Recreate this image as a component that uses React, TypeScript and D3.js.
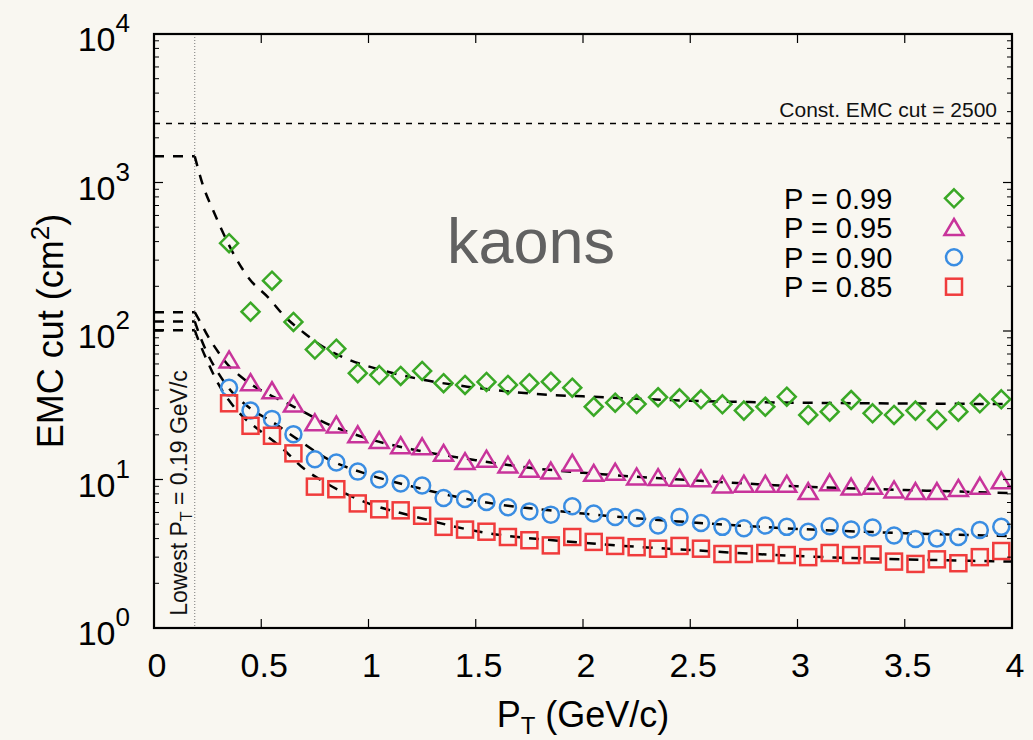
import React from 'react';
import * as d3 from 'd3';

// ---------- data ----------
const pT = [0.35, 0.45, 0.55, 0.65, 0.75, 0.85, 0.95, 1.05, 1.15, 1.25, 1.35, 1.45, 1.55, 1.65, 1.75, 1.85, 1.95,
  2.05, 2.15, 2.25, 2.35, 2.45, 2.55, 2.65, 2.75, 2.85, 2.95, 3.05, 3.15, 3.25, 3.35, 3.45, 3.55, 3.65, 3.75, 3.85, 3.95];

const p99 = [390, 135, 218, 115, 75, 76, 52, 50.5, 49.8, 53.8, 44.5, 43.3, 45.4, 43.3, 44.5, 45.6, 41.5,
  30.9, 32.9, 32.2, 35.8, 35.2, 34.7, 32.1, 29.1, 30.9, 36.1, 27.2, 28.6, 34.3, 27.9, 27.2, 29.1, 25.2, 28.6, 32.6, 34.7];
const p95 = [63.8, 44.9, 39.6, 32.2, 24.1, 23.3, 20.0, 18.3, 16.9, 16.6, 15.0, 13.2, 13.7, 12.5, 11.7, 11.4, 12.9,
  11.0, 11.2, 10.4, 10.3, 10.2, 10.1, 9.2, 9.3, 9.3, 9.3, 8.3, 9.5, 8.9, 9.0, 8.5, 8.3, 8.3, 8.7, 9.0, 9.8];
const p90 = [41.5, 29.1, 25.6, 20.2, 13.7, 13.0, 11.3, 10.0, 9.4, 9.1, 7.5, 7.4, 7.05, 6.5, 6.1, 5.8, 6.6,
  5.9, 5.6, 5.5, 4.9, 5.6, 5.1, 4.8, 4.7, 4.9, 4.8, 4.45, 4.85, 4.6, 4.75, 4.2, 3.97, 4.0, 4.1, 4.57, 4.8];
const p85 = [32.6, 23.0, 19.7, 15.0, 8.95, 8.6, 6.9, 6.3, 6.2, 5.7, 4.8, 4.6, 4.45, 4.1, 3.9, 3.6, 4.1,
  3.8, 3.57, 3.5, 3.42, 3.57, 3.42, 3.15, 3.15, 3.2, 3.1, 3.0, 3.2, 3.1, 3.13, 2.8, 2.7, 2.9, 2.73, 3.0, 3.3];

// fit curves: [pT, value]
const fit99: [number, number][] = [[0, 1500], [0.19, 1500], [0.23, 940], [0.277, 643], [0.323, 455], [0.385, 304],
  [0.443, 226], [0.533, 168], [0.61, 125], [0.7, 97], [0.79, 78], [0.91, 64], [1.06, 54.6], [1.26, 46.8],
  [1.46, 42.2], [1.85, 37.1], [2.0, 36.3], [2.5, 33.9], [3.0, 32.9], [3.5, 32.5], [4.0, 32.2]];
const fit95: [number, number][] = [[0, 134], [0.19, 134], [0.22, 112], [0.25, 93], [0.3, 72], [0.35, 58], [0.4, 50],
  [0.45, 44], [0.55, 36.5], [0.65, 31], [0.8, 24], [1.0, 18.8], [1.2, 16], [1.5, 13.5], [1.75, 12], [2.0, 11.1],
  [2.5, 9.9], [3.0, 9.0], [3.5, 8.5], [4.0, 8.1]];
const fit90: [number, number][] = [[0, 116], [0.19, 116], [0.22, 88], [0.25, 70], [0.3, 52], [0.35, 41], [0.45, 30],
  [0.55, 24.5], [0.65, 19.5], [0.8, 14], [1.0, 10.8], [1.2, 9.0], [1.5, 7.2], [2.0, 5.9], [2.5, 5.15], [3.0, 4.65],
  [3.5, 4.35], [4.0, 4.15]];
const fit85: [number, number][] = [[0, 101], [0.19, 101], [0.22, 78], [0.25, 62], [0.3, 44], [0.35, 34], [0.42, 26],
  [0.5, 21], [0.59, 16.6], [0.7, 11.8], [0.8, 9.5], [1.0, 6.9], [1.2, 5.7], [1.5, 4.5], [2.0, 3.75], [2.5, 3.35],
  [3.0, 3.05], [3.5, 2.9], [4.0, 2.8]];

const xTicks = [0, 0.5, 1, 1.5, 2, 2.5, 3, 3.5, 4];
const xTickLabels = ['0', '0.5', '1', '1.5', '2', '2.5', '3', '3.5', '4'];
const yDecades = [1, 10, 100, 1000, 10000];
const yExponents = ['0', '1', '2', '3', '4'];
const constCut = 2500;
const lowestPt = 0.19;
const legendLabels = ['P = 0.99', 'P = 0.95', 'P = 0.90', 'P = 0.85'];

// ---------- styling ----------
const W = 1033, H = 740;
const L = 154, R = 1012, T = 34, B = 628;
const BG = '#f9f7f1';
const FONT = '"Liberation Sans", Arial, Helvetica, sans-serif';
const COLORS = ['#3aa826', '#c8349b', '#3a8de2', '#f03c3c'];
const SHAPES = ['diamond', 'triangle', 'circle', 'square'];

function Marker({ shape, x, y, color }: { shape: string; x: number; y: number; color: string }) {
  const common = { fill: 'none', stroke: color, strokeWidth: 2.5 };
  if (shape === 'circle') return <circle cx={x} cy={y} r={8} {...common} />;
  if (shape === 'square') return <rect x={x - 8} y={y - 8} width={16} height={16} {...common} />;
  if (shape === 'diamond') return <path d={`M${x},${y - 9}L${x + 9},${y}L${x},${y + 9}L${x - 9},${y}Z`} {...common} />;
  return <path d={`M${x},${y - 8.5}L${x + 9.5},${y + 7.5}L${x - 9.5},${y + 7.5}Z`} {...common} strokeLinejoin="miter" />;
}

export default function App() {
  const x = d3.scaleLinear().domain([0, 4]).range([L, R]);
  const y = d3.scaleLog().domain([1, 10000]).range([B, T]);

  const series = [p99, p95, p90, p85];
  const fits = [fit99, fit95, fit90, fit85];

  const curve = d3.line<[number, number]>().x(d => x(d[0])).y(d => y(d[1])).curve(d3.curveMonotoneX);
  const flat = d3.line<[number, number]>().x(d => x(d[0])).y(d => y(d[1]));

  const minor: number[] = [];
  for (let i = 0; i < yDecades.length - 1; i++) {
    for (let m = 2; m <= 9; m++) minor.push(yDecades[i] * m);
  }

  const legendRowY = [198.3, 227.5, 257.3, 286.7];

  return (
    <svg width={W} height={H} style={{ position: 'absolute', left: 0, top: 0, background: BG }} fontFamily={FONT}>
      <rect x={0} y={0} width={W} height={H} fill={BG} />

      {/* lowest pT vertical line */}
      <line x1={x(lowestPt)} x2={x(lowestPt)} y1={T} y2={B} stroke="#777" strokeWidth={1} strokeDasharray="1,2" />

      {/* constant cut line */}
      <line x1={L} x2={R} y1={y(constCut)} y2={y(constCut)} stroke="#000" strokeWidth={1.5} strokeDasharray="6,6" />
      <text x={997} y={117} fontSize={21} textAnchor="end" fill="#111">Const. EMC cut = 2500</text>

      {/* fits */}
      {fits.map((f, i) => (
        <g key={'fit' + i} fill="none" stroke="#000" strokeWidth={2.5} strokeDasharray="10,9">
          <path d={flat(f.filter(d => d[0] <= lowestPt)) || ''} />
          <path d={curve(f.filter(d => d[0] >= lowestPt)) || ''} />
        </g>
      ))}

      {/* data */}
      {series.map((s, i) => (
        <g key={'s' + i}>
          {s.map((v, j) => (
            <Marker key={j} shape={SHAPES[i]} x={x(pT[j])} y={y(v)} color={COLORS[i]} />
          ))}
        </g>
      ))}

      {/* kaons */}
      <text x={531} y={263} fontSize={63} textAnchor="middle" fill="#616161">kaons</text>

      {/* legend */}
      {legendLabels.map((lab, i) => (
        <g key={'lg' + i}>
          <text x={784} y={legendRowY[i] + 10.3} fontSize={29} fill="#000">{lab}</text>
          <Marker shape={SHAPES[i]} x={954} y={legendRowY[i]} color={COLORS[i]} />
        </g>
      ))}

      {/* lowest pT label */}
      <text transform={`translate(187,${(T + B) / 2 + 162}) rotate(-90)`} fontSize={23} textAnchor="middle" fill="#111">
        Lowest P<tspan dy={5} fontSize={16}>T</tspan><tspan dy={-5}> = 0.19 GeV/c</tspan>
      </text>

      {/* frame & ticks */}
      <g stroke="#000">
        {xTicks.map((t, i) => (
          <g key={'xt' + i}>
            <line x1={x(t)} x2={x(t)} y1={B} y2={B - 9} strokeWidth={1.2} />
            <line x1={x(t)} x2={x(t)} y1={T} y2={T + 9} strokeWidth={1.2} />
          </g>
        ))}
        {yDecades.map((t, i) => (
          <g key={'yt' + i}>
            <line x1={L} x2={L + 9} y1={y(t)} y2={y(t)} strokeWidth={1.2} />
            <line x1={R} x2={R - 9} y1={y(t)} y2={y(t)} strokeWidth={1.2} />
          </g>
        ))}
        {minor.map((t, i) => (
          <g key={'ym' + i}>
            <line x1={L} x2={L + 5} y1={y(t)} y2={y(t)} strokeWidth={1} />
            <line x1={R} x2={R - 5} y1={y(t)} y2={y(t)} strokeWidth={1} />
          </g>
        ))}
        <rect x={L} y={T} width={R - L} height={B - T} fill="none" strokeWidth={2.2} />
      </g>

      {/* tick labels */}
      {xTicks.map((t, i) => (
        <text key={'xl' + i} x={x(t) + 3} y={677} fontSize={34} textAnchor="middle" fill="#000">{xTickLabels[i]}</text>
      ))}
      {yDecades.map((t, i) => (
        <text key={'yl' + i} x={130} y={y(t) + 17} fontSize={34} textAnchor="end" fill="#000">
          10<tspan dy={-19} fontSize={26}>{yExponents[i]}</tspan>
        </text>
      ))}

      {/* axis titles */}
      <text x={583} y={727} fontSize={36} textAnchor="middle" fill="#000">
        P<tspan dy={7} fontSize={24}>T</tspan><tspan dy={-7}> (GeV/c)</tspan>
      </text>
      <text transform={`translate(63,${(T + B) / 2}) rotate(-90)`} fontSize={36} textAnchor="middle" fill="#000">
        EMC cut (cm<tspan dy={-14} fontSize={26}>2</tspan><tspan dy={14}>)</tspan>
      </text>
    </svg>
  );
}
